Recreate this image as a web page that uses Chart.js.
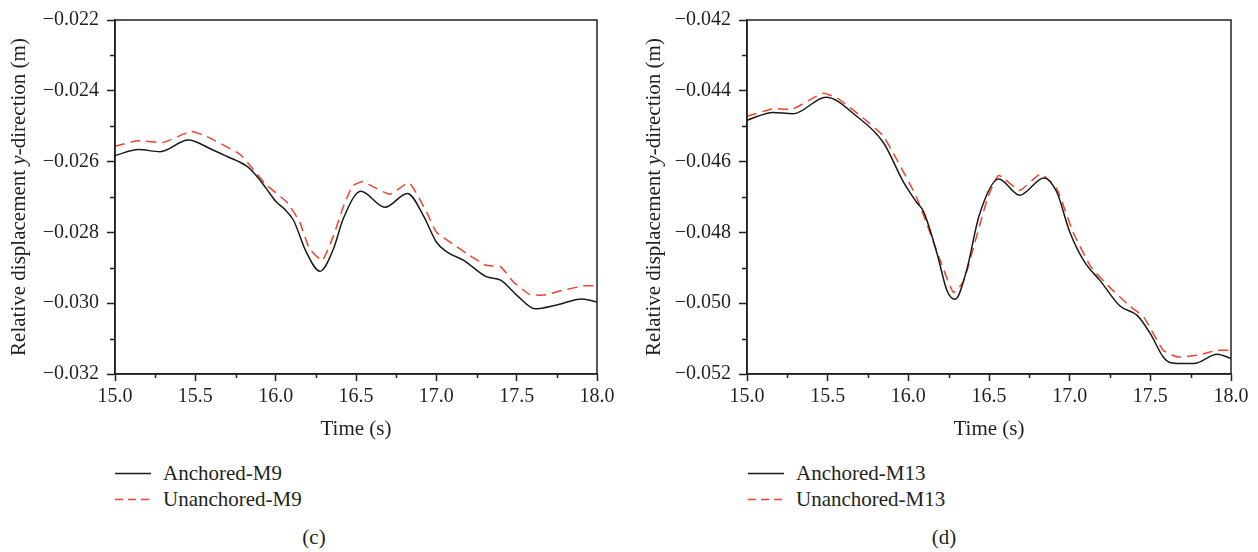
<!DOCTYPE html>
<html>
<head>
<meta charset="utf-8">
<title>Relative displacement, anchored vs unanchored</title>
<script src="https://cdn.jsdelivr.net/npm/chart.js@4.4.1/dist/chart.umd.min.js"></script>
<style>
    html, body { margin: 0; padding: 0; background: #fff; }
    #page { position: relative; width: 1258px; height: 552px; overflow: hidden;
            font-family: 'Liberation Serif', 'Times New Roman', serif; color: #231f20; }
    #page canvas { position: absolute; top: 0; }
    .legend-row { position: absolute; height: 26px; line-height: 26px; font-size: 21px; white-space: nowrap; }
    .legend-row svg { position: absolute; left: 0; top: 12px; }
    .legend-row span { position: absolute; left: 48px; top: 0; }
    .caption { position: absolute; top: 525px; font-size: 21px; transform: translateX(-50%); }
</style>
</head>
<body>
<div id="page">
    <canvas id="chartC" width="629" height="450" style="left:0"></canvas>
    <canvas id="chartD" width="624" height="450" style="left:634px"></canvas>
    <div id="legendC"></div>
    <div id="legendD"></div>
    <div class="caption" style="left:314px">(c)</div>
    <div class="caption" style="left:944px">(d)</div>
</div>
<script>
// Panel (c): measuring point M9
const timeM9Anchored = [15.0, 15.145, 15.28, 15.456, 15.6, 15.695, 15.82, 15.88, 15.94, 16.0, 16.05, 16.11, 16.19,
    16.276, 16.36, 16.42, 16.53, 16.68, 16.82, 16.92, 17.0, 17.065, 17.17, 17.31, 17.4, 17.5, 17.615, 17.75, 17.906, 18.0];
const dispM9Anchored = [-0.02583, -0.02566, -0.02572, -0.02539, -0.02565, -0.02585, -0.02613, -0.02640, -0.02675, -0.02712, -0.02732, -0.02765, -0.02855,
    -0.0291, -0.02846, -0.02762, -0.02684, -0.02729, -0.0269, -0.02753, -0.02827, -0.02855, -0.02879, -0.02925, -0.02935, -0.02977, -0.03016, -0.03005, -0.02988, -0.02997];

const timeM9Unanchored = [15.0, 15.14, 15.3, 15.47, 15.57, 15.78, 15.86, 15.94, 16.07, 16.15, 16.21, 16.29, 16.36, 16.42, 16.48,
    16.54, 16.71, 16.83, 16.94, 17.0, 17.1, 17.19, 17.31, 17.4, 17.48, 17.58, 17.67, 17.79, 17.92, 18.0];
const dispM9Unanchored = [-0.02557, -0.02541, -0.02546, -0.02515, -0.02529, -0.0258, -0.02622, -0.02665, -0.02715, -0.02771, -0.02846, -0.02879, -0.02809, -0.02729, -0.02668,
    -0.02657, -0.02692, -0.0266, -0.02743, -0.02799, -0.02832, -0.0286, -0.02893, -0.02897, -0.0294, -0.02975, -0.02977, -0.02963, -0.02951, -0.02951];

// Panel (d): measuring point M13
const timeM13Anchored = [15.0, 15.16, 15.285, 15.49, 15.68, 15.845, 15.97, 16.05, 16.095, 16.18, 16.24, 16.29, 16.36, 16.44,
    16.56, 16.69, 16.84, 16.92, 17.0, 17.09, 17.19, 17.31, 17.42, 17.5, 17.58, 17.625, 17.69, 17.77, 17.915, 18.0];
const dispM13Anchored = [-0.04483, -0.04461, -0.04465, -0.04418, -0.04472, -0.04546, -0.04658, -0.04714, -0.04742, -0.04863, -0.04965, -0.04989, -0.04909, -0.04751,
    -0.04649, -0.04695, -0.04646, -0.04686, -0.04798, -0.04882, -0.04937, -0.05007, -0.05035, -0.05086, -0.05152, -0.05168, -0.0517, -0.0517, -0.05144, -0.05156];

const timeM13Unanchored = [15.0, 15.16, 15.285, 15.47, 15.56, 15.72, 15.845, 16.05, 16.2, 16.28, 16.34, 16.38, 16.49,
    16.56, 16.69, 16.82, 16.92, 17.02, 17.13, 17.25, 17.37, 17.46, 17.58, 17.67, 17.79, 17.915, 18.0];
const dispM13Unanchored = [-0.04472, -0.04451, -0.04451, -0.04407, -0.04421, -0.04477, -0.04528, -0.047, -0.04882, -0.0497, -0.0494, -0.04882, -0.04705,
    -0.04639, -0.04681, -0.04635, -0.04677, -0.04798, -0.04896, -0.04956, -0.05007, -0.0504, -0.05133, -0.05152, -0.05147, -0.05133, -0.05133];

const labelsC = ['Anchored-M9', 'Unanchored-M9'];
const labelsD = ['Anchored-M13', 'Unanchored-M13'];

const X_TITLE = 'Time (s)';
const Y_TITLE = ['Relative displacement ', 'y', '-direction (m)'];

const AXIS_COLOR = '#231f20';
const ANCHORED_COLOR = '#1a1a1a';
const UNANCHORED_COLOR = '#f0432d';
const FONT_FAMILY = "'Liberation Serif', 'Times New Roman', serif";

function toPoints(xs, ys) {
    return xs.map((x, i) => ({ x: x, y: ys[i] }));
}

function isMajorX(v) {
    return Math.round(v * 4) % 2 === 0;
}

function isMajorY(v) {
    return Math.round(Math.abs(v) * 1000) % 2 === 0;
}

// frame, minor ticks and the rotated y title (with italic "y")
const decorPlugin = {
    id: 'decor',
    afterDraw(chart, args, opts) {
        const ctx = chart.ctx;
        const area = chart.chartArea;
        const xs = chart.scales.x;
        const ys = chart.scales.y;

        ctx.save();
        ctx.strokeStyle = AXIS_COLOR;
        ctx.lineWidth = 1.5;
        ctx.strokeRect(area.left, area.top, area.right - area.left, area.bottom - area.top);

        ctx.beginPath();
        xs.ticks.forEach(t => {
            if (isMajorX(t.value)) return;
            const px = Math.round(xs.getPixelForValue(t.value)) + 0.5;
            ctx.moveTo(px, area.bottom);
            ctx.lineTo(px, area.bottom + 4);
        });
        ys.ticks.forEach(t => {
            if (isMajorY(t.value)) return;
            const py = Math.round(ys.getPixelForValue(t.value)) + 0.5;
            ctx.moveTo(area.left - 5, py);
            ctx.lineTo(area.left, py);
        });
        ctx.stroke();

        // y axis title
        const normal = '21px ' + FONT_FAMILY;
        const italic = 'italic 21px ' + FONT_FAMILY;
        const fonts = [normal, italic, normal];
        let total = 0;
        const widths = Y_TITLE.map((txt, i) => {
            ctx.font = fonts[i];
            const w = ctx.measureText(txt).width;
            total += w;
            return w;
        });
        ctx.translate(opts.titleX, (area.top + area.bottom) / 2);
        ctx.rotate(-Math.PI / 2);
        ctx.fillStyle = AXIS_COLOR;
        ctx.textBaseline = 'middle';
        ctx.textAlign = 'left';
        let cx = -total / 2;
        Y_TITLE.forEach((txt, i) => {
            ctx.font = fonts[i];
            ctx.fillText(txt, cx, 0);
            cx += widths[i];
        });
        ctx.restore();
    }
};

function buildChart(canvasId, cfg) {
    return new Chart(document.getElementById(canvasId), {
        type: 'line',
        data: {
            datasets: [
                {
                    label: cfg.labels[0],
                    data: toPoints(cfg.anchoredTime, cfg.anchoredDisp),
                    borderColor: ANCHORED_COLOR,
                    borderWidth: 1.5,
                    pointRadius: 0,
                    cubicInterpolationMode: 'monotone',
                    fill: false
                },
                {
                    label: cfg.labels[1],
                    data: toPoints(cfg.unanchoredTime, cfg.unanchoredDisp),
                    borderColor: UNANCHORED_COLOR,
                    borderWidth: 1.5,
                    borderDash: [10, 6],
                    pointRadius: 0,
                    tension: 0.15,
                    fill: false
                }
            ]
        },
        options: {
            responsive: false,
            animation: false,
            layout: { padding: { top: 16, right: cfg.padRight, left: 0, bottom: 0 } },
            plugins: {
                legend: { display: false },
                tooltip: { enabled: false },
                decor: { titleX: cfg.titleX }
            },
            scales: {
                x: {
                    type: 'linear',
                    min: 15,
                    max: 18,
                    afterFit: scale => { scale.height = 76; },
                    ticks: {
                        stepSize: 0.25,
                        autoSkip: false,
                        maxRotation: 0,
                        padding: 4,
                        color: AXIS_COLOR,
                        font: { family: FONT_FAMILY, size: 20 },
                        callback: value => isMajorX(value) ? value.toFixed(1) : ''
                    },
                    grid: {
                        drawOnChartArea: false,
                        tickLength: 7,
                        tickWidth: 1.5,
                        tickColor: ctx => (ctx.tick && isMajorX(ctx.tick.value)) ? AXIS_COLOR : 'rgba(0,0,0,0)'
                    },
                    border: { color: AXIS_COLOR, width: 1.5 },
                    title: {
                        display: true,
                        text: X_TITLE,
                        color: AXIS_COLOR,
                        font: { family: FONT_FAMILY, size: 21 },
                        padding: { top: 0, bottom: 8 }
                    }
                },
                y: {
                    type: 'linear',
                    min: cfg.yMin,
                    max: cfg.yMax,
                    afterFit: scale => { scale.width = cfg.yWidth; },
                    ticks: {
                        stepSize: 0.001,
                        autoSkip: false,
                        padding: 8,
                        color: AXIS_COLOR,
                        font: { family: FONT_FAMILY, size: 20 },
                        callback: value => isMajorY(value) ? value.toFixed(3).replace('-', '\u2212') : ''
                    },
                    grid: {
                        drawOnChartArea: false,
                        tickLength: 8,
                        tickWidth: 1.5,
                        tickColor: ctx => (ctx.tick && isMajorY(ctx.tick.value)) ? AXIS_COLOR : 'rgba(0,0,0,0)'
                    },
                    border: { color: AXIS_COLOR, width: 1.5 }
                }
            }
        },
        plugins: [decorPlugin]
    });
}

function buildLegend(containerId, chart, left) {
    const container = document.getElementById(containerId);
    chart.data.datasets.forEach((ds, i) => {
        const row = document.createElement('div');
        row.className = 'legend-row';
        row.style.left = left + 'px';
        row.style.top = (460 + i * 26) + 'px';
        const dash = ds.borderDash ? 'stroke-dasharray="8 5"' : '';
        row.innerHTML = '<svg width="36" height="3"><line x1="0" y1="1.5" x2="36" y2="1.5" stroke="' +
            ds.borderColor + '" stroke-width="1.5" ' + dash + '/></svg><span>' + ds.label + '</span>';
        container.appendChild(row);
    });
}

const chartC = buildChart('chartC', {
    labels: labelsC,
    anchoredTime: timeM9Anchored, anchoredDisp: dispM9Anchored,
    unanchoredTime: timeM9Unanchored, unanchoredDisp: dispM9Unanchored,
    yMin: -0.032, yMax: -0.022,
    yWidth: 115, padRight: 32, titleX: 19
});

const chartD = buildChart('chartD', {
    labels: labelsD,
    anchoredTime: timeM13Anchored, anchoredDisp: dispM13Anchored,
    unanchoredTime: timeM13Unanchored, unanchoredDisp: dispM13Unanchored,
    yMin: -0.052, yMax: -0.042,
    yWidth: 113, padRight: 27, titleX: 20
});

buildLegend('legendC', chartC, 115);
buildLegend('legendD', chartD, 748);
</script>
</body>
</html>
